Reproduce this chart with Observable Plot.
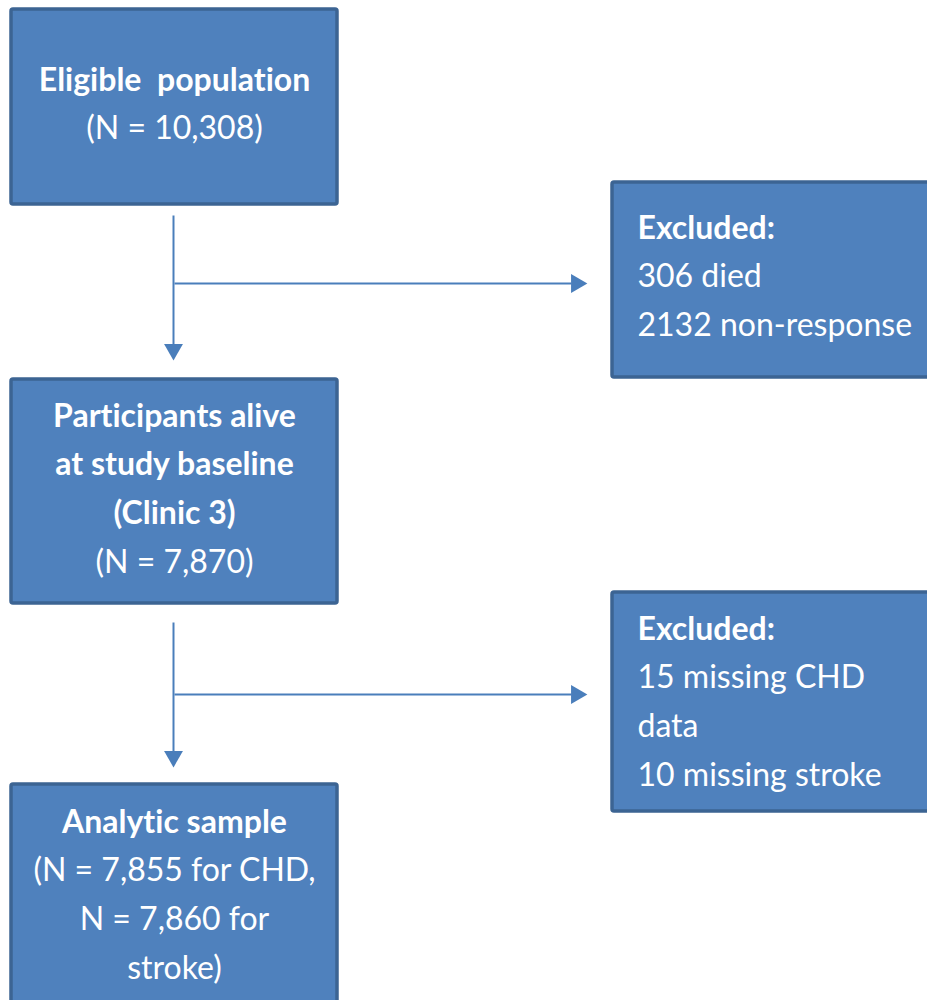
<!DOCTYPE html>
<html>
<head>
<meta charset="utf-8">
<script src="https://cdn.jsdelivr.net/npm/d3@7"></script>
<script src="https://cdn.jsdelivr.net/npm/@observablehq/plot@0.6"></script>
<style>
  html, body { margin: 0; padding: 0; background: #fff; }
  #chart svg { display: block; }
  #chart svg text { font-variant-ligatures: none; font-feature-settings: "liga" 0, "clig" 0; }
</style>
</head>
<body>
<div id="chart"></div>
<script>
// Flowchart content
const boxIds = ["eligible", "excluded1", "alive", "excluded2", "analytic"];
const boxLines = [
  ["Eligible\u00a0 population", "(N = 10,308)"],
  ["Excluded:", "306 died", "2132 non-response"],
  ["Participants alive", "at study baseline", "(Clinic 3)", "(N = 7,870)"],
  ["Excluded:", "15 missing CHD", "data", "10 missing stroke"],
  ["Analytic sample", "(N = 7,855 for CHD,", "N = 7,860 for", "stroke)"]
];
const boldLines = [1, 1, 3, 1, 1]; // number of leading bold lines per box
const alignments = ["middle", "start", "middle", "start", "middle"];

// Layout (page coordinates)
const boxLayout = [
  {x1: 11, x2: 337, y1: 9, y2: 204, tx: 174, ty: 80},
  {x1: 612, x2: 945, y1: 182, y2: 377, tx: 637, ty: 228},
  {x1: 11, x2: 337, y1: 379, y2: 603, tx: 174, ty: 416},
  {x1: 612, x2: 945, y1: 592, y2: 811, tx: 637, ty: 629},
  {x1: 11, x2: 337, y1: 784, y2: 1012, tx: 174, ty: 822}
];
const lineStep = 48.7;

const connectors = [
  {from: "eligible", to: "alive", x: 173, y1: 215, y2: 344, hy: 283, hx2: 571},
  {from: "alive", to: "analytic", x: 173, y1: 622, y2: 751, hy: 694, hx2: 571}
];

const boxes = boxIds.map((id, i) => ({id, ...boxLayout[i]}));
const texts = [];
boxIds.forEach((id, i) => {
  boxLines[i].forEach((t, j) => {
    texts.push({
      text: t,
      x: boxLayout[i].tx,
      y: boxLayout[i].ty + j * lineStep,
      bold: j < boldLines[i],
      anchor: alignments[i]
    });
  });
});
const vLines = connectors.map(c => ({x1: c.x, x2: c.x, y1: c.y1, y2: c.y2}));
const hLines = connectors.map(c => ({x1: c.x + 1, x2: c.hx2, y1: c.hy, y2: c.hy}));
const downHeads = connectors.map(c => ({x: c.x, y: c.y2 + 5}));
const rightHeads = connectors.map(c => ({x: c.hx2 + 5, y: c.hy}));

const arrowColor = "#4A7EBB";
const font = "Lato, 'Open Sans', sans-serif";
const fs = 32;

const textMarks = [];
for (const anchor of ["middle", "start"]) {
  for (const bold of [true, false]) {
    textMarks.push(Plot.text(texts.filter(d => d.bold === bold && d.anchor === anchor), {
      x: "x", y: "y", text: "text", textAnchor: anchor, fill: "white",
      fontSize: fs, fontWeight: bold ? "bold" : "normal", fontFamily: font
    }));
  }
}

const chart = Plot.plot({
  width: 927,
  height: 1000,
  margin: 0,
  x: {domain: [0, 927], range: [0, 927], axis: null},
  y: {domain: [0, 1000], range: [0, 1000], axis: null},
  style: {fontFamily: font, background: "#fff"},
  marks: [
    Plot.rect(boxes, {x1: "x1", x2: "x2", y1: "y1", y2: "y2", fill: "#4F81BD", stroke: "#3C6493", strokeWidth: 3.5, rx: 2}),
    Plot.link(vLines, {x1: "x1", x2: "x2", y1: "y1", y2: "y2", stroke: arrowColor, strokeWidth: 2}),
    Plot.link(hLines, {x1: "x1", x2: "x2", y1: "y1", y2: "y2", stroke: arrowColor, strokeWidth: 2}),
    Plot.dot(downHeads, {x: "x", y: "y", symbol: "triangle", r: 7, fill: arrowColor, stroke: "none", rotate: 180}),
    Plot.dot(rightHeads, {x: "x", y: "y", symbol: "triangle", r: 7, fill: arrowColor, stroke: "none", rotate: 90}),
    ...textMarks
  ]
});
document.getElementById("chart").append(chart);
</script>
</body>
</html>
